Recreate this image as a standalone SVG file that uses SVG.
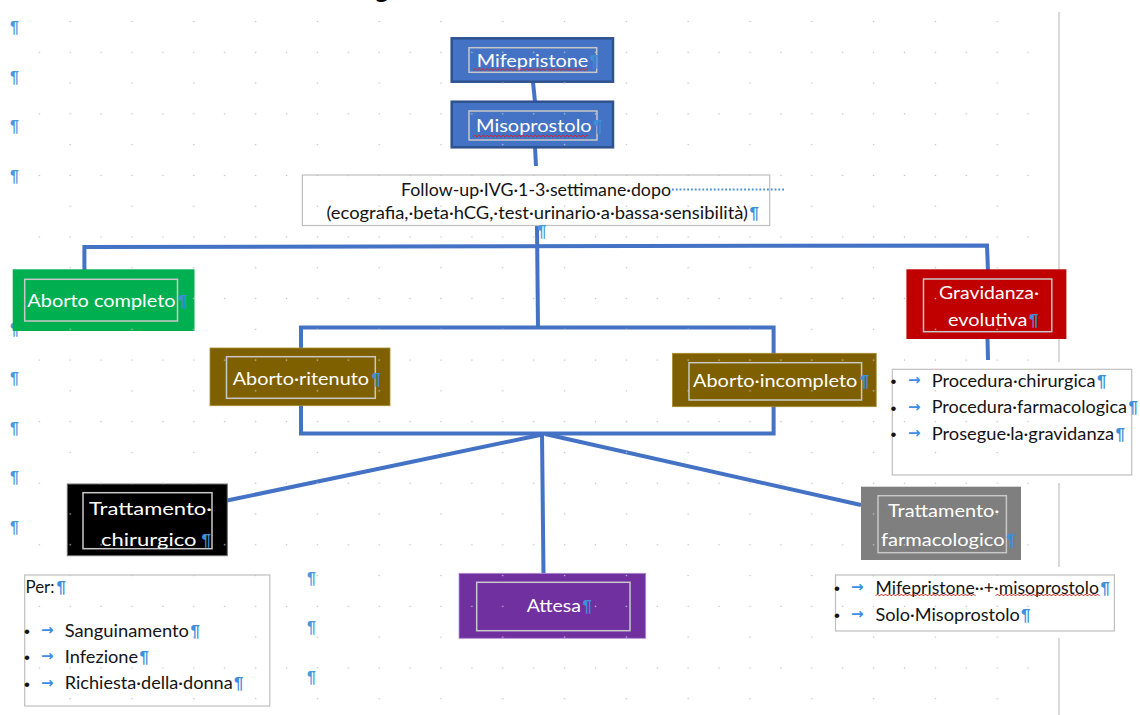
<svg xmlns="http://www.w3.org/2000/svg" width="1140" height="715" viewBox="0 0 1140 715">
<style>
.lbl{font-family:Lato,"Liberation Sans",sans-serif;font-size:18px;fill:#ffffff}
.txt{font-family:Lato,"Liberation Sans",sans-serif;font-size:17.5px;fill:#141414}
.pm{font-family:"Liberation Sans",sans-serif;font-weight:bold;font-size:17px;fill:#3d8fd9}
.mark{font-family:"Liberation Sans",sans-serif;font-weight:bold;font-size:16px;fill:#4a98de}
.bul{font-family:"Liberation Sans",sans-serif;font-size:17px;fill:#141414}
.arr{font-family:"DejaVu Sans",sans-serif;font-weight:bold;font-size:15px;fill:#3a8ee6}
.inner{fill:none;stroke:#c8c8c8;stroke-width:1.5}
.tbox{fill:#ffffff;stroke:#bfbfbf;stroke-width:1.2}
.con{fill:none;stroke:#4472c4;stroke-width:4;stroke-linejoin:miter}
</style>
<defs>
<pattern id="grid" x="23.85" y="36.91" width="61.8" height="61.56" patternUnits="userSpaceOnUse">
<circle cx="15.45" cy="15.39" r="0.8" fill="#c2c2c2"/>
<circle cx="46.35" cy="15.39" r="0.8" fill="#c2c2c2"/>
<circle cx="46.35" cy="46.17" r="0.8" fill="#c2c2c2"/>
</pattern>
<pattern id="sq" width="4" height="4" patternUnits="userSpaceOnUse">
<path d="M0,3 L2,1 L4,3" fill="none" stroke="#e0201c" stroke-width="0.9"/>
</pattern>
</defs>
<rect width="1140" height="715" fill="#ffffff"/>
<text x="375" y="-2" font-family="Lato,'Liberation Sans',sans-serif" font-weight="bold" font-size="26" fill="#000">g</text>
<line x1="1059" y1="12" x2="1059" y2="362" stroke="#d9d9d9" stroke-width="2"/>
<line x1="1059" y1="483" x2="1059" y2="567" stroke="#d9d9d9" stroke-width="2"/>
<line x1="1059" y1="638" x2="1059" y2="715" stroke="#d9d9d9" stroke-width="2"/>
<g id="margin-marks">
<text class="mark" x="10" y="33">¶</text>
<text class="mark" x="10" y="82.5">¶</text>
<text class="mark" x="10" y="132">¶</text>
<text class="mark" x="10" y="181.5">¶</text>
<text class="mark" x="10" y="335">¶</text>
<text class="mark" x="10" y="384">¶</text>
<text class="mark" x="10" y="434">¶</text>
<text class="mark" x="10" y="483">¶</text>
<text class="mark" x="10" y="533">¶</text>
<text class="mark" x="307" y="584">¶</text>
<text class="mark" x="307" y="633">¶</text>
<text class="mark" x="307" y="683">¶</text>
</g>
<g id="connectors">
<path class="con" d="M533,82 L535,102"/>
<path class="con" d="M535,147 L536,166"/>
<path class="con" d="M537,226 L538,328"/>
<path class="con" d="M84.4,272 L84.4,247 L987,245.5 L988,271"/>
<path class="con" d="M301,327.5 H773.6 V433.5 H301 Z"/>
<path class="con" d="M227,500.5 L540,435"/>
<path class="con" d="M542,434 L543.5,573.5"/>
<path class="con" d="M545,434 L861,505"/>
<path class="con" d="M987.5,339 L988,360"/>
</g>
<g id="mifepristone">
<rect x="451.7" y="38.3" width="161.3" height="43.4" fill="#4472c4" stroke="#2f528f" stroke-width="2.5"/>
<rect class="inner" x="469" y="47.7" width="127.7" height="24.6"/>
</g>
<g id="misoprostolo">
<rect x="451.7" y="101.7" width="161.3" height="45.6" fill="#4472c4" stroke="#2f528f" stroke-width="2.5"/>
<rect class="inner" x="469" y="111" width="128" height="29"/>
</g>
<g id="follow-up">
<rect class="tbox" x="302.4" y="175" width="467.3" height="50.5"/>
<line x1="672" y1="189.5" x2="786" y2="189.5" stroke="#4a90d9" stroke-width="2" stroke-dasharray="1.8 2"/>
</g>
<g id="aborto-completo">
<rect x="12.7" y="269.3" width="181.8" height="61.7" fill="#00b050"/>
<rect class="inner" x="24.7" y="279.3" width="152.8" height="41.7"/>
</g>
<g id="gravidanza-evolutiva">
<rect x="906.4" y="269.3" width="160" height="69.7" fill="#c00000"/>
<rect class="inner" x="923.5" y="279" width="128.3" height="52.7"/>
</g>
<g id="aborto-ritenuto">
<rect x="210" y="348" width="180" height="57.7" fill="#7f6000" stroke="#a88a30" stroke-width="0.8"/>
<rect class="inner" x="226.5" y="356.7" width="148.8" height="41.6"/>
</g>
<g id="aborto-incompleto">
<rect x="672.5" y="353.3" width="203.7" height="53.4" fill="#7f6000" stroke="#a88a30" stroke-width="0.8"/>
<rect class="inner" x="689" y="362.7" width="172.6" height="37.3"/>
</g>
<g id="gravidanza-list">
<rect class="tbox" x="892.3" y="369.3" width="239.4" height="105.7"/>
</g>
<g id="trattamento-chirurgico">
<rect x="67.3" y="484" width="160" height="71.7" fill="#000000" stroke="#6f6f6f" stroke-width="1"/>
<rect class="inner" x="83" y="492.7" width="129" height="56"/>
</g>
<g id="trattamento-farmacologico">
<rect x="861" y="486.7" width="160" height="73.3" fill="#7f7f7f"/>
<rect class="inner" x="878" y="495.7" width="128.4" height="57"/>
</g>
<g id="attesa">
<rect x="459" y="573.3" width="186.7" height="65" fill="#7030a0" stroke="#b48fd0" stroke-width="0.8"/>
<rect class="inner" x="476.7" y="582.3" width="153.3" height="48.4"/>
</g>
<g id="per-list">
<rect class="tbox" x="24.7" y="575" width="245.1" height="131"/>
</g>
<g id="farmaco-list">
<rect class="tbox" x="835.5" y="575" width="278.9" height="56"/>
</g>
<rect x="30" y="10" width="1015" height="705" fill="url(#grid)"/>
<g id="labels">
<text class="lbl" x="476.7" y="67.3" textLength="111.6" lengthAdjust="spacingAndGlyphs">Mifepristone</text>
<text class="pm" x="589.5" y="67.3">¶</text>
<text class="lbl" x="476" y="131.7" textLength="115.7" lengthAdjust="spacingAndGlyphs">Misoprostolo</text>
<text class="pm" x="593" y="131.7">¶</text>
<text class="txt" x="401" y="196" font-size="16.5" textLength="270" lengthAdjust="spacingAndGlyphs">Follow-up·IVG·1-3·settimane·dopo</text>
<text class="txt" x="326.5" y="219" font-size="16.5" textLength="421.5" lengthAdjust="spacingAndGlyphs">(ecografia,·beta·hCG,·test·urinario·a·bassa·sensibilità)</text>
<text class="pm" x="749.5" y="219">¶</text>
<text class="mark" x="537.5" y="237" font-size="9">¶</text>
<text class="lbl" x="27.3" y="306.7" textLength="148.3" lengthAdjust="spacingAndGlyphs">Aborto completo</text>
<text class="pm" x="178" y="306.7">¶</text>
<text class="lbl" x="939" y="299" textLength="100" lengthAdjust="spacingAndGlyphs">Gravidanza·</text>
<text class="lbl" x="948" y="325.5" textLength="79.5" lengthAdjust="spacingAndGlyphs">evolutiva</text>
<text class="pm" x="1029" y="325.5">¶</text>
<text class="lbl" x="232.7" y="385" textLength="136.3" lengthAdjust="spacingAndGlyphs">Aborto·ritenuto</text>
<text class="pm" x="371.6" y="385">¶</text>
<text class="lbl" x="693" y="386.7" textLength="164.3" lengthAdjust="spacingAndGlyphs">Aborto·incompleto</text>
<text class="pm" x="860" y="386.7">¶</text>
<text class="bul" x="890.5" y="387">•</text>
<text class="arr" x="908" y="385">→</text>
<text class="txt" x="931.7" y="386.7" textLength="163.8" lengthAdjust="spacingAndGlyphs">Procedura·chirurgica</text>
<text class="pm" x="1097" y="386.7">¶</text>
<text class="bul" x="890.5" y="413.6">•</text>
<text class="arr" x="908" y="411.6">→</text>
<text class="txt" x="931.7" y="413.3" textLength="195.3" lengthAdjust="spacingAndGlyphs">Procedura·farmacologica</text>
<text class="pm" x="1128.5" y="413.3">¶</text>
<text class="bul" x="890.5" y="440.3">•</text>
<text class="arr" x="908" y="438.3">→</text>
<text class="txt" x="931.7" y="440" textLength="182.3" lengthAdjust="spacingAndGlyphs">Prosegue·la·gravidanza</text>
<text class="pm" x="1115.5" y="440">¶</text>
<text class="lbl" x="89" y="515" font-size="19" textLength="123" lengthAdjust="spacingAndGlyphs">Trattamento·</text>
<text class="lbl" x="101" y="546" font-size="19" textLength="95.4" lengthAdjust="spacingAndGlyphs">chirurgico</text>
<text class="pm" x="201.5" y="546">¶</text>
<text class="lbl" x="888" y="516.5" textLength="111.5" lengthAdjust="spacingAndGlyphs">Trattamento·</text>
<text class="lbl" x="881" y="546" textLength="123.5" lengthAdjust="spacingAndGlyphs">farmacologico</text>
<text class="pm" x="1006" y="546">¶</text>
<text class="lbl" x="526.7" y="611.7" textLength="54.3" lengthAdjust="spacingAndGlyphs">Attesa</text>
<text class="pm" x="582.5" y="611.7">¶</text>
<text class="txt" x="25.5" y="592.7" textLength="29" lengthAdjust="spacingAndGlyphs">Per:</text>
<text class="pm" x="56.4" y="592.7">¶</text>
<text class="bul" x="24" y="637">•</text>
<text class="arr" x="41" y="635">→</text>
<text class="txt" x="64.7" y="636.7" textLength="124.3" lengthAdjust="spacingAndGlyphs">Sanguinamento</text>
<text class="pm" x="190.5" y="636.7">¶</text>
<text class="bul" x="24" y="663">•</text>
<text class="arr" x="41" y="661">→</text>
<text class="txt" x="64.7" y="662.7" textLength="73.5" lengthAdjust="spacingAndGlyphs">Infezione</text>
<text class="pm" x="139.5" y="662.7">¶</text>
<text class="bul" x="24" y="689.6">•</text>
<text class="arr" x="41" y="687.6">→</text>
<text class="txt" x="64.7" y="689.3" textLength="168" lengthAdjust="spacingAndGlyphs">Richiesta·della·donna</text>
<text class="pm" x="234" y="689.3">¶</text>
<text class="bul" x="834" y="594.3">•</text>
<text class="arr" x="851" y="592.3">→</text>
<text class="txt" x="875.5" y="594" textLength="223.5" lengthAdjust="spacingAndGlyphs">Mifepristone··+·misoprostolo</text>
<text class="pm" x="1100.5" y="594">¶</text>
<text class="bul" x="834" y="621">•</text>
<text class="arr" x="851" y="619">→</text>
<text class="txt" x="875.5" y="620.7" textLength="144.3" lengthAdjust="spacingAndGlyphs">Solo·Misoprostolo</text>
<text class="pm" x="1021" y="620.7">¶</text>
</g>
<g id="spelling-marks">
<g transform="translate(473,67.5)"><rect width="115" height="4" fill="url(#sq)"/></g>
<g transform="translate(473,134)"><rect width="115" height="4" fill="url(#sq)"/></g>
<g transform="translate(875.5,593)"><rect width="100" height="4" fill="url(#sq)"/></g>
<g transform="translate(995.5,593)"><rect width="104" height="4" fill="url(#sq)"/></g>
</g>
</svg>
